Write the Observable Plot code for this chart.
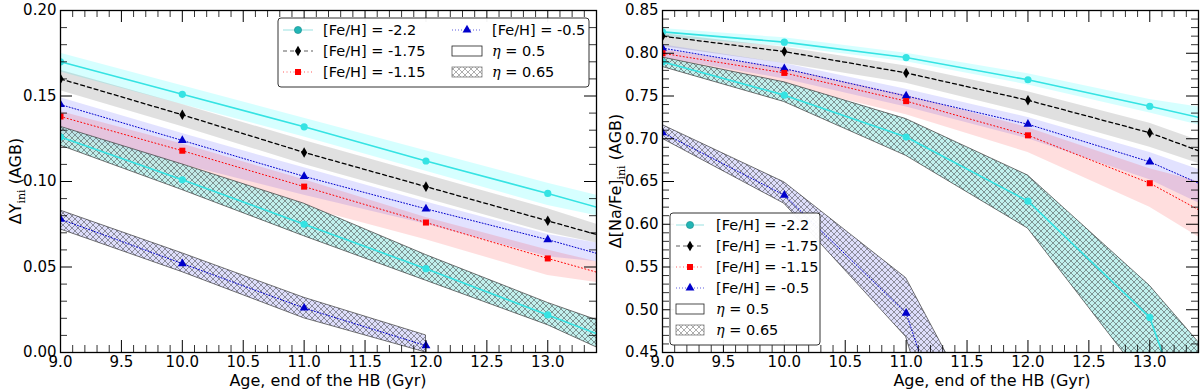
<!DOCTYPE html>
<html><head><meta charset="utf-8">
<script src="https://cdn.jsdelivr.net/npm/d3@7"></script>
<script src="https://cdn.jsdelivr.net/npm/@observablehq/plot@0.6"></script>
<style>
body{margin:0;background:#fff;font-family:"DejaVu Sans",sans-serif}
#wrap{position:relative;width:1200px;height:390px;overflow:hidden}
#left,#right{position:absolute;top:0}
#left{left:0}#right{left:600px}
</style></head><body>
<svg width="0" height="0" style="position:absolute"><defs>
<pattern id="hatch" patternUnits="userSpaceOnUse" width="6" height="6">
<path d="M0,0L6,6M6,0L0,6" stroke="#3a3a3a" stroke-width="0.5" fill="none"/>
</pattern>
<pattern id="hatchLeg" patternUnits="userSpaceOnUse" width="6" height="6">
<path d="M0,0L6,6M6,0L0,6" stroke="#777" stroke-width="0.6" fill="none"/>
</pattern>
</defs></svg>
<div id="wrap"><div id="left"></div><div id="right"></div></div>
<script>
// ---------- data ----------
const ages = [9, 10, 11, 12, 13, 13.4];
const agesShort = [9, 10, 11, 12];
const seriesNames = ["[Fe/H] = -2.2", "[Fe/H] = -1.75", "[Fe/H] = -1.15", "[Fe/H] = -0.5"];
const etaNames = ["η = 0.5", "η = 0.65"];

// Left panel: Delta Y_ini, eta = 0.5
const Y_m22    = [0.170, 0.151, 0.132, 0.112, 0.093, 0.085];
const Y_m22_lo = [0.164, 0.145, 0.126, 0.106, 0.086, 0.080];
const Y_m22_hi = [0.175, 0.156, 0.137, 0.118, 0.099, 0.092];
const Y_m175    = [0.160, 0.139, 0.117, 0.097, 0.077, 0.069];
const Y_m175_lo = [0.153, 0.132, 0.110, 0.090, 0.070, 0.064];
const Y_m175_hi = [0.165, 0.145, 0.124, 0.104, 0.084, 0.075];
const Y_m115    = [0.138, 0.118, 0.097, 0.076, 0.055, 0.047];
const Y_m115_lo = [0.122, 0.103, 0.085, 0.066, 0.045, 0.041];
const Y_m115_hi = [0.141, 0.122, 0.101, 0.079, 0.060, 0.053];
const Y_m05    = [0.145, 0.124, 0.103, 0.084, 0.066, 0.058];
const Y_m05_lo = [0.128, 0.110, 0.092, 0.075, 0.056, 0.053];
const Y_m05_hi = [0.149, 0.128, 0.108, 0.088, 0.069, 0.064];
// Left panel: eta = 0.65
const Yh_m22    = [0.126, 0.101, 0.075, 0.049, 0.022, 0.011];
const Yh_m22_lo = [0.121, 0.095, 0.068, 0.042, 0.016, 0.003];
const Yh_m22_hi = [0.132, 0.110, 0.087, 0.057, 0.029, 0.019];
const Yh_m05    = [0.078, 0.052, 0.026, 0.004];
const Yh_m05_lo = [0.072, 0.047, 0.020, 0.000];
const Yh_m05_hi = [0.083, 0.058, 0.032, 0.010];

// Right panel: Delta [Na/Fe]_ini, eta = 0.5
const N_m22    = [0.825, 0.813, 0.795, 0.769, 0.738, 0.725];
const N_m22_lo = [0.819, 0.808, 0.790, 0.763, 0.730, 0.716];
const N_m22_hi = [0.829, 0.818, 0.800, 0.776, 0.746, 0.737];
const N_m175    = [0.820, 0.802, 0.777, 0.745, 0.707, 0.686];
const N_m175_lo = [0.808, 0.788, 0.765, 0.730, 0.690, 0.671];
const N_m175_hi = [0.823, 0.807, 0.785, 0.755, 0.718, 0.698];
const N_m115    = [0.800, 0.777, 0.744, 0.704, 0.648, 0.617];
const N_m115_lo = [0.788, 0.763, 0.728, 0.684, 0.620, 0.585];
const N_m115_hi = [0.804, 0.782, 0.751, 0.713, 0.665, 0.650];
const N_m05    = [0.806, 0.782, 0.750, 0.717, 0.673, 0.648];
const N_m05_lo = [0.795, 0.770, 0.737, 0.700, 0.652, 0.625];
const N_m05_hi = [0.810, 0.788, 0.758, 0.725, 0.684, 0.664];
// Right panel: eta = 0.65
const Nh_m22    = [0.790, 0.751, 0.702, 0.627, 0.491, 0.330];
const Nh_m22_lo = [0.784, 0.743, 0.680, 0.595, 0.410, 0.300];
const Nh_m22_hi = [0.795, 0.766, 0.723, 0.657, 0.528, 0.462];
const Nh_m05    = [0.707, 0.634, 0.496, 0.070];
const Nh_m05_lo = [0.700, 0.624, 0.468, 0.000];
const Nh_m05_hi = [0.716, 0.649, 0.537, 0.270];

// ---------- styles ----------
const ST = {
  m22:  {color: "#35e3e3", dash: null,    width: 1.6, symbol: "circle",   r: 3.6, band: "#00ffff", bandOp: 0.16},
  m175: {color: "#000000", dash: "4,3",   width: 1.3, symbol: "diamond",  r: 3.2, band: "#000000", bandOp: 0.12},
  m115: {color: "#ff0000", dash: "1,2.5", width: 1.0, symbol: "square",   r: 3.4, band: "#ff0000", bandOp: 0.13},
  m05:  {color: "#0000cc", dash: "1,2",   width: 1.0, symbol: "triangle", r: 3.3, band: "#2020ff", bandOp: 0.13}
};
const HATCH_FILL = {m22: "#b2ece8", m05: "#d6d6fa"};

function rows(a, v, lo, hi) { return a.map((x, i) => ({age: x, v: v[i], lo: lo[i], hi: hi[i]})); }

function isMajor(d, step) { return Math.abs(d / step - Math.round(d / step)) < 1e-6; }

function makePanel(cfg) {
  const {width, height, mt, mb, ml, mr, yDomain, yMajorStep, yMinorStep, normal, hatched} = cfg;
  const fw = width - ml - mr, fh = height - mt - mb;
  const xAll = d3.range(90, 135, 1).map(d => d / 10);
  const xMajor = xAll.filter(d => isMajor(d, 0.5));
  const xMinor = xAll.filter(d => !isMajor(d, 0.5));
  const n0 = Math.round(yDomain[0] / yMinorStep), n1 = Math.round(yDomain[1] / yMinorStep);
  const yAll = d3.range(n0, n1 + 1).map(k => +(k * yMinorStep).toFixed(4));
  const yMajor = yAll.filter(d => isMajor(d, yMajorStep));
  const yMinor = yAll.filter(d => !isMajor(d, yMajorStep));
  const marks = [];
  for (const s of normal) {
    marks.push(Plot.areaY(s.data, {x: "age", y1: "lo", y2: "hi", fill: ST[s.key].band, fillOpacity: ST[s.key].bandOp, clip: true}));
  }
  for (const s of hatched) {
    marks.push(Plot.areaY(s.data, {x: "age", y1: "lo", y2: "hi", fill: HATCH_FILL[s.key], fillOpacity: 0.8, clip: true}));
    marks.push(Plot.areaY(s.data, {x: "age", y1: "lo", y2: "hi", fill: "url(#hatch)", stroke: "#3a3a3a", strokeWidth: 0.7, clip: true}));
  }
  for (const s of [...normal, ...hatched]) {
    const st = ST[s.key];
    marks.push(Plot.line(s.data, {x: "age", y: "v", stroke: st.color, strokeWidth: st.width, strokeDasharray: st.dash, clip: true}));
  }
  for (const s of [...normal, ...hatched]) {
    const st = ST[s.key];
    marks.push(Plot.dot(s.data.filter(d => d.age <= 13), {x: "age", y: "v", symbol: st.symbol, r: st.r, fill: st.color, stroke: "none", clip: true}));
  }
  const tick = (len) => fh - len;
  const tickw = (len) => fw - len;
  marks.push(
    Plot.tickX(xMajor, {x: d => d, insetTop: tick(12), stroke: "black", strokeWidth: 1}),
    Plot.tickX(xMinor, {x: d => d, insetTop: tick(7), stroke: "black", strokeWidth: 0.8}),
    Plot.tickX(xMajor, {x: d => d, insetBottom: tick(12), stroke: "black", strokeWidth: 1}),
    Plot.tickX(xMinor, {x: d => d, insetBottom: tick(7), stroke: "black", strokeWidth: 0.8}),
    Plot.tickY(yMajor, {y: d => d, insetRight: tickw(12), stroke: "black", strokeWidth: 1}),
    Plot.tickY(yMinor, {y: d => d, insetRight: tickw(7), stroke: "black", strokeWidth: 0.8}),
    Plot.tickY(yMajor, {y: d => d, insetLeft: tickw(12), stroke: "black", strokeWidth: 1}),
    Plot.tickY(yMinor, {y: d => d, insetLeft: tickw(7), stroke: "black", strokeWidth: 0.8}),
    Plot.axisX(xMajor, {tickSize: 0, tickPadding: 4, tickFormat: d3.format(".1f"), label: null}),
    Plot.axisY(yMajor, {tickSize: 0, tickPadding: 4, tickFormat: d3.format(".2f"), label: null}),
    Plot.frame({stroke: "black", strokeWidth: 1.3})
  );
  return Plot.plot({
    width, height, marginTop: mt, marginBottom: mb, marginLeft: ml, marginRight: mr,
    x: {domain: [9, 13.4], label: null},
    y: {domain: yDomain, label: null},
    style: {fontSize: "15px", fontFamily: "DejaVu Sans", color: "black", background: "white"},
    marks
  });
}

const left = makePanel({
  width: 600, height: 390, mt: 10, mb: 38, ml: 60, mr: 4,
  yDomain: [0, 0.2], yMajorStep: 0.05, yMinorStep: 0.01,
  normal: [
    {key: "m22", data: rows(ages, Y_m22, Y_m22_lo, Y_m22_hi)},
    {key: "m175", data: rows(ages, Y_m175, Y_m175_lo, Y_m175_hi)},
    {key: "m05", data: rows(ages, Y_m05, Y_m05_lo, Y_m05_hi)},
    {key: "m115", data: rows(ages, Y_m115, Y_m115_lo, Y_m115_hi)}
  ],
  hatched: [
    {key: "m22", data: rows(ages, Yh_m22, Yh_m22_lo, Yh_m22_hi)},
    {key: "m05", data: rows(agesShort, Yh_m05, Yh_m05_lo, Yh_m05_hi)}
  ]
});
const right = makePanel({
  width: 600, height: 390, mt: 10, mb: 38, ml: 62, mr: 2,
  yDomain: [0.45, 0.85], yMajorStep: 0.05, yMinorStep: 0.01,
  normal: [
    {key: "m22", data: rows(ages, N_m22, N_m22_lo, N_m22_hi)},
    {key: "m175", data: rows(ages, N_m175, N_m175_lo, N_m175_hi)},
    {key: "m05", data: rows(ages, N_m05, N_m05_lo, N_m05_hi)},
    {key: "m115", data: rows(ages, N_m115, N_m115_lo, N_m115_hi)}
  ],
  hatched: [
    {key: "m22", data: rows(ages, Nh_m22, Nh_m22_lo, Nh_m22_hi)},
    {key: "m05", data: rows(agesShort, Nh_m05, Nh_m05_lo, Nh_m05_hi)}
  ]
});
document.getElementById("left").appendChild(left);
document.getElementById("right").appendChild(right);

// ---------- axis titles ----------
function xTitle(svg, cx) {
  d3.select(svg).append("text").attr("x", cx).attr("y", 386).attr("text-anchor", "middle")
    .attr("font-size", 16).attr("font-family", "DejaVu Sans").attr("fill", "black")
    .text("Age, end of the HB (Gyr)");
}
function yTitle(svg, x, main) {
  const t = d3.select(svg).append("text").attr("transform", `translate(${x},181) rotate(-90)`)
    .attr("text-anchor", "middle").attr("font-size", 16).attr("font-family", "DejaVu Sans").attr("fill", "black");
  t.append("tspan").text(main);
  t.append("tspan").attr("font-size", 11).attr("font-family", "DejaVu Serif").attr("dy", 4).text("ini");
  t.append("tspan").attr("dy", -4).text(" (AGB)");
}
xTitle(left, 328); yTitle(left, 21, "ΔY");
xTitle(right, 392); yTitle(right, 21, "Δ[Na/Fe]");

// ---------- legends ----------
const symMap = {circle: d3.symbolCircle, diamond: d3.symbolDiamond, square: d3.symbolSquare, triangle: d3.symbolTriangle};
function legend(svg, box, entries) {
  const g = d3.select(svg).append("g").attr("text-anchor", "start");
  g.append("rect").attr("x", box.x).attr("y", box.y).attr("width", box.w).attr("height", box.h)
    .attr("rx", 3).attr("fill", "white").attr("fill-opacity", 0.95).attr("stroke", "#333").attr("stroke-width", 1);
  for (const e of entries) {
    if (e.key) {
      const st = ST[e.key];
      g.append("line").attr("x1", e.x).attr("x2", e.x + e.lw).attr("y1", e.y).attr("y2", e.y)
        .attr("stroke", e.key === "m22" ? "#5fcfcf" : st.color).attr("stroke-width", 0.8)
        .attr("stroke-opacity", 0.8).attr("stroke-dasharray", st.dash);
      const size = Math.PI * st.r * st.r;
      g.append("path").attr("d", d3.symbol().type(symMap[st.symbol]).size(size)())
        .attr("transform", `translate(${e.x + e.lw / 2},${e.y})`)
        .attr("fill", e.key === "m22" ? "#22b5b5" : st.color)
        .attr("stroke", e.key === "m22" ? "#138c8c" : "none").attr("stroke-width", 0.6);
      g.append("text").attr("x", e.tx).attr("y", e.y + 5).attr("font-size", 14.5)
        .attr("text-anchor", "start").attr("font-family", "DejaVu Sans").text(e.label);
    } else {
      g.append("rect").attr("x", e.x).attr("y", e.y - 5).attr("width", e.lw).attr("height", 10)
        .attr("fill", e.hatch ? "url(#hatchLeg)" : "white").attr("stroke", e.hatch ? "#777" : "#222").attr("stroke-width", 0.8);
      const t = g.append("text").attr("x", e.tx).attr("y", e.y + 5).attr("font-size", 14.5)
        .attr("text-anchor", "start").attr("font-family", "DejaVu Sans");
      const parts = e.label.split(" = ");
      t.append("tspan").attr("font-family", "DejaVu Serif").attr("font-style", "italic").text(parts[0]);
      t.append("tspan").text(" = " + parts[1]);
    }
  }
}
legend(left, {x: 278, y: 18, w: 311, h: 69}, [
  {key: "m22", label: seriesNames[0], x: 283, lw: 30, tx: 323, y: 30},
  {key: "m175", label: seriesNames[1], x: 283, lw: 30, tx: 323, y: 51},
  {key: "m115", label: seriesNames[2], x: 283, lw: 30, tx: 323, y: 72},
  {key: "m05", label: seriesNames[3], x: 452, lw: 30, tx: 492, y: 30},
  {label: etaNames[0], hatch: false, x: 452, lw: 30, tx: 492, y: 51},
  {label: etaNames[1], hatch: true, x: 452, lw: 30, tx: 492, y: 72}
]);
legend(right, {x: 70, y: 213, w: 150, h: 132}, [
  {key: "m22", label: seriesNames[0], x: 76, lw: 28, tx: 116, y: 225},
  {key: "m175", label: seriesNames[1], x: 76, lw: 28, tx: 116, y: 246},
  {key: "m115", label: seriesNames[2], x: 76, lw: 28, tx: 116, y: 267},
  {key: "m05", label: seriesNames[3], x: 76, lw: 28, tx: 116, y: 288},
  {label: etaNames[0], hatch: false, x: 76, lw: 28, tx: 116, y: 309},
  {label: etaNames[1], hatch: true, x: 76, lw: 28, tx: 116, y: 330}
]);
</script>
</body></html>
